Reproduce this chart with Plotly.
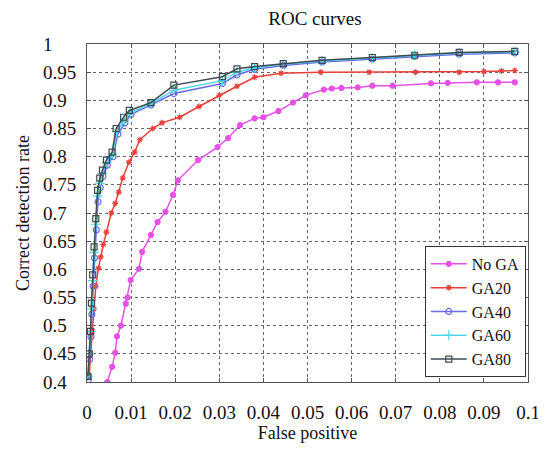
import plotly.graph_objects as go

# ---- data ----
x_noga = [0.0046, 0.0057, 0.0064, 0.0068, 0.0077, 0.0088, 0.0092, 0.0099, 0.0118, 0.0125,
          0.0145, 0.016, 0.0178, 0.0195, 0.0206, 0.0252, 0.0296, 0.032, 0.0347, 0.038,
          0.040, 0.0434, 0.0467, 0.0496, 0.0537, 0.0555, 0.0577, 0.0614, 0.0647, 0.0693,
          0.078, 0.0818, 0.0884, 0.0932, 0.097]
y_noga = [0.40, 0.427, 0.452, 0.481, 0.50, 0.539, 0.55, 0.581, 0.601, 0.631,
          0.661, 0.684, 0.702, 0.732, 0.758, 0.794, 0.817, 0.833, 0.856, 0.868,
          0.870, 0.881, 0.896, 0.909, 0.919, 0.921, 0.922, 0.923, 0.926, 0.926,
          0.930, 0.931, 0.932, 0.932, 0.932]

x_ga20 = [0.0005, 0.0008, 0.0012, 0.0016, 0.002, 0.0026, 0.0031, 0.0037, 0.0044, 0.0055,
          0.0064, 0.0072, 0.0081, 0.0095, 0.0108, 0.012, 0.0149, 0.017, 0.021, 0.0254,
          0.030, 0.034, 0.038, 0.044, 0.053, 0.064, 0.0745, 0.0844, 0.090, 0.094, 0.097]
y_ga20 = [0.41, 0.45, 0.49, 0.53, 0.57, 0.602, 0.622, 0.644, 0.666, 0.70,
          0.717, 0.737, 0.762, 0.79, 0.808, 0.83, 0.85, 0.86, 0.87, 0.889,
          0.909, 0.925, 0.941, 0.948, 0.950, 0.950, 0.950, 0.950, 0.951, 0.952, 0.953]

x_ga40 = [0.0003, 0.0006, 0.0009, 0.0011, 0.0014, 0.0017, 0.0021, 0.0025, 0.0030, 0.0036,
          0.0046, 0.0059, 0.0070, 0.0086, 0.0100, 0.0145, 0.0197, 0.0307, 0.034, 0.038,
          0.0445, 0.0533, 0.0647, 0.0743, 0.0844, 0.097]
y_ga40 = [0.404, 0.44, 0.48, 0.52, 0.57, 0.62, 0.67, 0.72, 0.745, 0.765,
          0.785, 0.80, 0.84, 0.86, 0.875, 0.892, 0.912, 0.93, 0.945, 0.955,
          0.962, 0.968, 0.973, 0.978, 0.982, 0.984]

x_ga60 = [0.0002, 0.0005, 0.0008, 0.0011, 0.0013, 0.0016, 0.0020, 0.0024, 0.0029, 0.0035,
          0.0045, 0.0058, 0.0068, 0.0085, 0.0098, 0.0145, 0.0197, 0.0307, 0.034, 0.038,
          0.0445, 0.0533, 0.0647, 0.0743, 0.0844, 0.097]
y_ga60 = [0.41, 0.45, 0.49, 0.53, 0.58, 0.63, 0.68, 0.73, 0.752, 0.77,
          0.79, 0.805, 0.845, 0.865, 0.878, 0.894, 0.918, 0.935, 0.95, 0.958,
          0.964, 0.970, 0.975, 0.980, 0.984, 0.986]

x_ga80 = [0.0002, 0.0005, 0.0008, 0.001, 0.0013, 0.0016, 0.002, 0.0024, 0.0029, 0.0035,
          0.0044, 0.0057, 0.0066, 0.0083, 0.0096, 0.0145, 0.0197, 0.0307, 0.034, 0.038,
          0.0445, 0.0533, 0.0647, 0.0743, 0.0844, 0.097]
y_ga80 = [0.41, 0.45, 0.49, 0.54, 0.59, 0.64, 0.69, 0.74, 0.762, 0.776,
          0.794, 0.808, 0.85, 0.87, 0.882, 0.896, 0.927, 0.942, 0.956, 0.96,
          0.965, 0.971, 0.976, 0.980, 0.985, 0.987]

x_tickvals = [0, 0.01, 0.02, 0.03, 0.04, 0.05, 0.06, 0.07, 0.08, 0.09, 0.1]
x_ticktext = ["0", "0.01", "0.02", "0.03", "0.04", "0.05", "0.06", "0.07", "0.08", "0.09", "0.1"]
y_tickvals = [0.4, 0.45, 0.5, 0.55, 0.6, 0.65, 0.7, 0.75, 0.8, 0.85, 0.9, 0.95, 1.0]
y_ticktext = ["0.4", "0.45", "0.5", "0.55", "0.6", "0.65", "0.7", "0.75", "0.8", "0.85", "0.9", "0.95", "1"]

FS = "\u2007"  # figure space (digit width)
PS = "\u2008"  # punctuation space


def pad_left_aligned(t):
    # pad so labels appear left aligned like the reference
    target = "0.95"
    if "." not in t:
        return t + PS + FS * 2
    return t + FS * (len(target) - len(t))


y_ticktext_padded = [pad_left_aligned(t) for t in y_ticktext]

font_family = "Liberation Serif, Times New Roman, serif"

series = [
    ("No GA", x_noga, y_noga, "#e651e6", "circle", 5),
    ("GA20", x_ga20, y_ga20, "#e8403a", "asterisk-open", 5),
    ("GA40", x_ga40, y_ga40, "#6a6ae8", "circle-open", 6),
    ("GA60", x_ga60, y_ga60, "#4fd8e6", "cross-thin-open", 7),
    ("GA80", x_ga80, y_ga80, "#3e4a50", "square-open", 6),
]

fig = go.Figure()
for name, xs, ys, color, sym, size in series:
    fig.add_trace(go.Scatter(
        x=xs, y=ys, name=name, mode="lines+markers",
        line=dict(color=color, width=1.5),
        marker=dict(symbol=sym, size=size, color=color,
                    line=dict(color=color, width=1.2)),
    ))

axis_common = dict(
    showline=True, linecolor="#555555", linewidth=1, mirror="ticks",
    ticks="inside", ticklen=4, tickcolor="#555555",
    showgrid=True, gridcolor="#666666", griddash="dot", gridwidth=1,
    zeroline=False, automargin=False, ticklabeloverflow="allow",
    tickfont=dict(family=font_family, size=19, color="#111111"),
)

# the page body has an 8px margin, so the figure is sized/offset to compensate;
# the right margin leaves room for the last x tick label "0.1"
W, H = 538, 446
fig.update_layout(
    width=W, height=H,
    margin=dict(l=79, r=18, t=35.5, b=72),
    paper_bgcolor="white", plot_bgcolor="white",
    title=dict(text="ROC curves", x=307 / W, xanchor="center", y=1 - 10 / H,
               yanchor="middle", font=dict(family=font_family, size=19, color="#111111")),
    xaxis=dict(range=[0, 0.1], tickvals=x_tickvals, ticktext=x_ticktext,
               ticklabelstandoff=13,
               title=dict(text="False positive", standoff=0,
                          font=dict(family=font_family, size=18, color="#111111")),
               **axis_common),
    yaxis=dict(range=[0.4, 1.0], tickvals=y_tickvals, ticktext=y_ticktext_padded,
               ticklabelstandoff=6,
               title=dict(text="Correct detection rate", standoff=8,
                          font=dict(family=font_family, size=18, color="#111111")),
               **axis_common),
    legend=dict(x=0.995, y=0.015, xanchor="right", yanchor="bottom",
                bgcolor="white", bordercolor="#333333", borderwidth=1,
                font=dict(family=font_family, size=16, color="#111111"),
                tracegroupgap=0, itemwidth=36),
    showlegend=True,
)

fig.write_html("out.html")
